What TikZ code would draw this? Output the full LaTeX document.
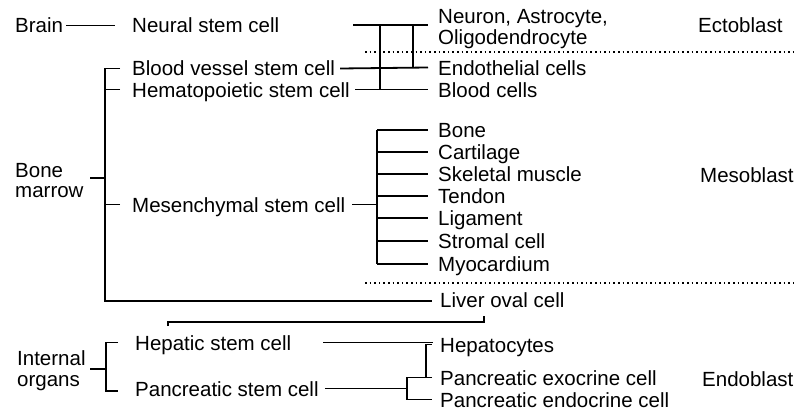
\documentclass[tikz,border=0pt]{standalone}
\usepackage{fontspec}
\setmainfont{Liberation Sans}
\usetikzlibrary{calc}
\begin{document}
\begin{tikzpicture}[x=1pt,y=-1pt,
  lbl/.style={font=\fontsize{20.5}{21}\selectfont, inner sep=0pt, anchor=base west, text height=15pt, text depth=0pt},
  ln/.style={line width=1.8pt},
  dots/.style={line width=1.6pt, dash pattern=on 1.6pt off 3pt}]
\useasboundingbox[fill=white] (0,0) rectangle (795,412);
% left column
\node[lbl] (brain) at (15,33) {Brain};
\node[lbl] (bone1) at (15,177) {Bone};
\node[lbl] (bone2) at (15,197) {marrow};
\node[lbl] (int1) at (17,365) {Internal};
\node[lbl] (int2) at (17,386) {organs};
% stem cells
\node[lbl] (neural) at (132,33) {Neural stem cell};
\node[lbl] (bvsc) at (132,76) {Blood vessel stem cell};
\node[lbl] (hsc) at (132,97) {Hematopoietic stem cell};
\node[lbl] (msc) at (132,212) {Mesenchymal stem cell};
\node[lbl] (hep) at (135,350) {Hepatic stem cell};
\node[lbl] (pan) at (135,396) {Pancreatic stem cell};
% products
\node[lbl] (neuron) at (438,24) {Neuron, Astrocyte,};
\node[lbl] (oligo) at (438,45) {Oligodendrocyte};
\node[lbl] (endo) at (438,75) {Endothelial cells};
\node[lbl] (blood) at (438,97) {Blood cells};
\node[lbl] (mb1) at (438,137.5) {Bone};
\node[lbl] (mb2) at (438,159.5) {Cartilage};
\node[lbl] (mb3) at (438,181.5) {Skeletal muscle};
\node[lbl] (mb4) at (438,203.5) {Tendon};
\node[lbl] (mb5) at (438,225.5) {Ligament};
\node[lbl] (mb6) at (438,248.5) {Stromal cell};
\node[lbl] (mb7) at (438,271.5) {Myocardium};
\node[lbl] (liver) at (440,307) {Liver oval cell};
\node[lbl] (hepc) at (440,352) {Hepatocytes};
\node[lbl] (pexo) at (440,385) {Pancreatic exocrine cell};
\node[lbl] (pendo) at (440,407) {Pancreatic endocrine cell};
% germ layers
\node[lbl] (ecto) at (698,33) {Ectoblast};
\node[lbl] (meso) at (700,182) {Mesoblast};
\node[lbl] (endob) at (702,386) {Endoblast};
% coordinates
\coordinate (n0) at (353,25);
\coordinate (n1) at (428,25);
\coordinate (ja) at (380,25);
\coordinate (jb) at (413,25);
\coordinate (bmb) at (105,301);
\coordinate (bmt) at (105,178);
\coordinate (mv) at (377,204);
\coordinate (mtop) at (377,130);
\coordinate (mbot) at (377,264);
\coordinate (lh1) at (168,326);
\coordinate (lh2) at (484,316);
\coordinate (ib1) at (106,342.5);
\coordinate (ib2) at (106,391);
\coordinate (ibt) at (106,369);
\coordinate (pf) at (407,388.5);
\coordinate (d1a) at (365,52);
\coordinate (d1b) at (795,52);
\coordinate (d2a) at (365,283);
\coordinate (d2b) at (795,283);
% connectors
\draw[ln] ([xshift=3pt]brain.east) -- ([xshift=-17pt]neural.west);
\draw[ln] (n0) -- (n1);
\draw[ln] ([xshift=5pt]bvsc.east) -- ([xshift=-10pt]endo.west);
\draw[ln] ([xshift=5pt]hsc.east) -- ([xshift=-10pt]blood.west);
\draw[ln] (ja) -- (ja |- blood.west);
\draw[ln] (jb) -- (jb |- endo.west);
\draw[dots] (d1a) -- (d1b);
% bone marrow bracket
\draw[ln] ([xshift=-12pt]bvsc.west) -- (bvsc.west -| bmb) -- (bmb) -- ([xshift=-8pt]liver.west |- bmb);
\draw[ln] ([xshift=-12pt]hsc.west) -- (hsc.west -| bmb);
\draw[ln] ([xshift=-12pt]msc.west) -- (msc.west -| bmb);
\draw[ln] (bmt) -- ++(-15,0);
% mesenchymal
\draw[ln] ([xshift=7pt]msc.east) -- (msc.east -| mv);
\draw[ln] (mtop) -- (mbot);
\foreach \m in {mb1,mb2,mb3,mb4,mb5,mb6,mb7}
  \draw[ln] (mv |- \m.west) -- ([xshift=-10pt]\m.west);
\draw[dots] (d2a) -- (d2b);
% liver oval cell to hepatic
\draw[ln] (lh1) -- ++(0,-4) -| (lh2);
% internal organs bracket
\draw[ln] ([xshift=-17pt]hep.west) -- (ib1) -- (ib2) -- ([xshift=-17pt]pan.west |- ib2);
\draw[ln] (ibt) -- ++(-16,0);
\draw[ln] ([xshift=32pt]hep.east) -- ([xshift=-7pt]hepc.west |- hep.east);
\draw[ln] ([xshift=6pt]pan.east) -- (pf);
\draw[ln] ([xshift=-8pt]pexo.west) -- (pexo.west -| pf) -- (pendo.west -| pf) -- ([xshift=-8pt]pendo.west);
\draw[ln] ([xshift=-14pt]pexo.west) |- ([xshift=-8pt]hepc.west);
\end{tikzpicture}
\end{document}
